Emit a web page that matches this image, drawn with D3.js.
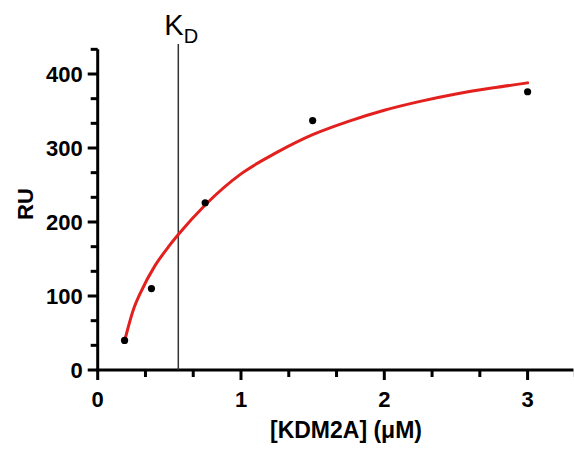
<!DOCTYPE html>
<html>
<head>
<meta charset="utf-8">
<script src="https://cdn.jsdelivr.net/npm/d3@7"></script>
<style>
  html, body { margin: 0; padding: 0; background: #fff; }
  svg { display: block; }
  text { font-family: "Liberation Sans", Arial, Helvetica, sans-serif; }
</style>
</head>
<body>
<svg id="chart" width="574" height="453"></svg>
<script>
// ---- data ----
const concentration = [0.1875, 0.375, 0.75, 1.5, 3];
const responseRU = [40, 110, 226, 337, 376];

// fitted curve
const fitX = [0.1875, 0.25, 0.3, 0.4, 0.5, 0.5625, 0.75, 1.0, 1.25, 1.5, 1.75, 2.0, 2.25, 2.5, 2.75, 3.0];
const fitY = [39, 82, 105, 141, 168, 183, 223, 265, 294, 318, 336, 351, 363, 373, 381, 388];

const kd = 0.5625;

const xTicks = [0, 1, 2, 3];
const xMinorTicks = [1/3, 2/3, 4/3, 5/3, 7/3, 8/3, 10/3];
const yTicks = [0, 100, 200, 300, 400];
const yMinorTicks = [100/3, 200/3, 400/3, 500/3, 700/3, 800/3, 1000/3, 1100/3, 1300/3];

const xLabel = "[KDM2A] (μM)";
const yLabel = "RU";

// ---- scales ----
const svg = d3.select("#chart");
const x = d3.scaleLinear().domain([0, 3]).range([97.7, 527.6]);
const y = d3.scaleLinear().domain([0, 400]).range([370, 74]);

const axisColor = "#000";
const axisWidth = 3;

// Y axis
const yAxisG = svg.append("g").attr("transform", `translate(${x(0)},0)`);
yAxisG.append("line")
  .attr("x1", 0).attr("x2", 0)
  .attr("y1", y(0) + 1.5).attr("y2", y(1300/3))
  .attr("stroke", axisColor).attr("stroke-width", axisWidth);
yAxisG.selectAll("line.major").data(yTicks).enter().append("line")
  .attr("class", "major")
  .attr("x1", -10).attr("x2", 0)
  .attr("y1", d => y(d)).attr("y2", d => y(d))
  .attr("stroke", axisColor).attr("stroke-width", axisWidth);
yAxisG.selectAll("line.minor").data(yMinorTicks).enter().append("line")
  .attr("class", "minor")
  .attr("x1", -7).attr("x2", 0)
  .attr("y1", d => y(d)).attr("y2", d => y(d))
  .attr("stroke", axisColor).attr("stroke-width", axisWidth);
yAxisG.selectAll("text").data(yTicks).enter().append("text")
  .attr("x", -15).attr("y", d => y(d))
  .attr("dy", "0.36em")
  .attr("text-anchor", "end")
  .attr("font-size", 22).attr("font-weight", "bold")
  .text(d => d);

// X axis
const xAxisG = svg.append("g").attr("transform", `translate(0,${y(0)})`);
xAxisG.append("line")
  .attr("x1", x(0) - 1.5).attr("x2", x(3.32))
  .attr("y1", 0).attr("y2", 0)
  .attr("stroke", axisColor).attr("stroke-width", axisWidth);
xAxisG.selectAll("line.major").data(xTicks).enter().append("line")
  .attr("class", "major")
  .attr("x1", d => x(d)).attr("x2", d => x(d))
  .attr("y1", 0).attr("y2", 10)
  .attr("stroke", axisColor).attr("stroke-width", axisWidth);
xAxisG.selectAll("line.minor").data(xMinorTicks).enter().append("line")
  .attr("class", "minor")
  .attr("x1", d => x(d)).attr("x2", d => x(d))
  .attr("y1", 0).attr("y2", 7)
  .attr("stroke", axisColor).attr("stroke-width", axisWidth);
xAxisG.selectAll("text").data(xTicks).enter().append("text")
  .attr("x", d => x(d)).attr("y", 37)
  .attr("text-anchor", "middle")
  .attr("font-size", 22).attr("font-weight", "bold")
  .text(d => d);

// axis titles
svg.append("text")
  .attr("x", 346).attr("y", 438)
  .attr("text-anchor", "middle")
  .attr("font-size", 23).attr("font-weight", "bold")
  .text(xLabel);
svg.append("text")
  .attr("transform", `translate(33,204) rotate(-90)`)
  .attr("text-anchor", "middle")
  .attr("font-size", 22).attr("font-weight", "bold")
  .text(yLabel);

// KD line
svg.append("line")
  .attr("x1", x(kd)).attr("x2", x(kd))
  .attr("y1", 44).attr("y2", y(0))
  .attr("stroke", "#333").attr("stroke-width", 1.5);
const kdText = svg.append("text")
  .attr("x", x(kd) - 14).attr("y", 35)
  .attr("font-size", 29);
kdText.append("tspan").text("K");
kdText.append("tspan").attr("font-size", 20).attr("dy", 8).text("D");

// fit curve
const fitData = fitX.map((v, i) => [v, fitY[i]]);
svg.append("path")
  .datum(fitData)
  .attr("fill", "none")
  .attr("stroke", "#e3201e")
  .attr("stroke-width", 3)
  .attr("stroke-linecap", "round")
  .attr("d", d3.line().x(d => x(d[0])).y(d => y(d[1])).curve(d3.curveMonotoneX));

// data points
svg.selectAll("circle.pt").data(concentration).enter().append("circle")
  .attr("class", "pt")
  .attr("cx", d => x(d))
  .attr("cy", (d, i) => y(responseRU[i]))
  .attr("r", 3.6)
  .attr("fill", "#000");
</script>
</body>
</html>
